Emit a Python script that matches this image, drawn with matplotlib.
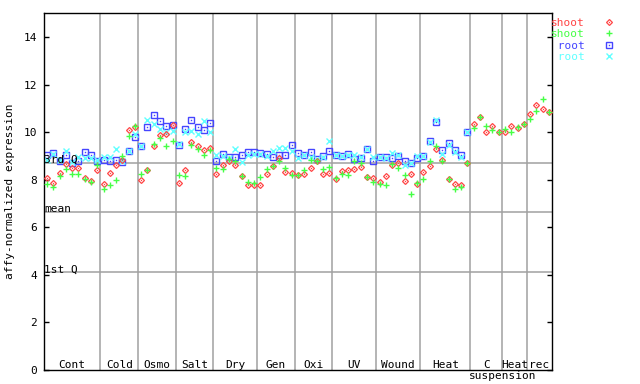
import numpy as np
import matplotlib.pyplot as plt
from matplotlib.legend_handler import HandlerTuple

plt.rcParams['font.family'] = 'DejaVu Sans Mono'
plt.rcParams['font.size'] = 8

groups = ["Cont", "Cold", "Osmo", "Salt", "Dry", "Gen", "Oxi", "UV",
          "Wound", "Heat", "C", "Heat", "rec"]
group_sizes = [9, 6, 6, 6, 7, 6, 6, 7, 7, 8, 5, 4, 4]

# shoot replicates (all samples)
shoot1 = [8.07, 7.88, 8.30, 8.68, 8.49, 8.49, 8.07, 7.96, 8.40,
          7.82, 8.30, 8.60, 8.82, 10.08, 10.22,
          7.97, 8.40, 9.43, 9.90, 9.92, 10.32,
          7.86, 8.43, 9.57, 9.41, 9.25, 9.32,
          8.26, 8.64, 8.80, 8.60, 8.14, 7.77, 7.76,
          7.77, 8.23, 8.58, 8.90, 8.33, 8.27,
          8.20, 8.25, 8.48, 8.77, 8.24, 8.27,
          8.03, 8.35, 8.40, 8.45, 8.54, 8.10, 8.06,
          7.91, 8.16, 8.64, 8.70, 7.93, 8.23, 7.84,
          8.31, 8.56, 9.31, 8.84, 8.05, 7.82, 7.77, 8.72,
          10.36, 10.62, 9.99, 10.26, 10.02,
          9.99, 10.25, 10.18, 10.36,
          10.78, 11.16, 10.98, 10.85]
shoot2 = [7.81, 7.70, 8.17, 8.45, 8.26, 8.26, 8.03, 7.89, 8.60,
          7.63, 7.78, 7.97, 9.01, 9.85, 10.27,
          8.25, 8.39, 9.52, 9.77, 9.43, 9.61,
          8.19, 8.14, 9.48, 9.31, 9.06, 9.23,
          8.48, 8.45, 8.89, 8.77, 8.16, 7.91, 7.88,
          8.10, 8.45, 8.57, 8.77, 8.50, 8.21,
          8.20, 8.40, 8.82, 8.80, 8.46, 8.53,
          8.07, 8.26, 8.22, 8.78, 8.72, 8.10, 7.89,
          7.84, 7.76, 8.65, 8.48, 8.20, 7.42, 7.85,
          8.05, 8.80, 9.42, 8.78, 8.04, 7.59, 7.68, 8.71,
          10.19, 10.63, 10.28, 10.11, 10.02,
          10.15, 9.99, 10.21, 10.36,
          10.55, 10.88, 11.41, 10.85]
# root replicates (no cell-suspension samples)
root1 = [9.02, 9.13, 8.80, 9.02, 8.72, 8.78, 9.15, 9.03, 8.80,
         8.84, 8.78, 8.84, 8.75, 9.21, 9.81,
         9.40, 10.23, 10.74, 10.45, 10.28, 10.32,
         9.48, 10.13, 10.50, 10.20, 10.08, 10.37,
         8.77, 9.07, 8.96, 8.94, 9.03, 9.15, 9.17,
         9.13, 9.07, 8.96, 9.06, 9.03, 9.45,
         9.12, 9.04, 9.18, 8.87, 9.01, 9.20,
         9.03, 8.99, 9.10, 8.86, 8.92, 9.31, 8.77,
         8.96, 8.95, 8.91, 9.00, 8.77, 8.72, 8.91,
         9.00, 9.64, 10.42, 9.27, 9.53, 9.26, 9.06, 10.01]
root2 = [8.82, 9.10, 8.85, 9.21, 8.75, 8.96, 8.91, 8.92, 8.82,
         8.97, 8.96, 9.29, 8.80, 9.20, 9.92,
         9.42, 10.52, 10.36, 10.14, 10.02, 10.06,
         9.50, 10.02, 10.03, 9.94, 10.45, 9.99,
         9.02, 9.00, 8.92, 9.29, 8.73, 9.05, 9.10,
         9.10, 9.00, 9.20, 9.34, 9.34, 9.22,
         8.92, 9.02, 8.96, 8.88, 8.95, 9.62,
         9.03, 9.00, 9.05, 9.03, 8.95, 9.30, 8.96,
         8.96, 8.92, 9.11, 9.05, 8.64, 8.70, 9.00,
         8.98, 9.60, 10.50, 9.10, 9.45, 9.17, 8.96, 10.00]

q1, mean, q3 = 4.11, 6.64, 8.70

red, green, blue, cyan = '#ff4545', '#45ff45', '#4545ff', '#60ffff'
grey = '#a0a0a0'

n = sum(group_sizes)
x = np.arange(1, n + 1)
xr = x[:len(root1)]

fig = plt.figure(figsize=(6.4, 3.84), dpi=100)
ax = fig.add_axes([0.06875, 0.0365, 0.79375, 0.9289])

# group separators and reference lines
edges = np.cumsum(group_sizes) + 0.5
for e in edges[:-1]:
    ax.axvline(e, color=grey, lw=1.1, zorder=1)
for v, lab in [(q3, "3rd Q"), (mean, "mean"), (q1, "1st Q")]:
    ax.axhline(v, color=grey, lw=1.1, zorder=1)
    ax.text(0.55, v, lab, ha='left', va='baseline', zorder=5)

r1, = ax.plot(x, shoot1, ls='none', marker='D', ms=3.0, mfc='none',
              mec=red, mew=0.9, zorder=3, color=red)
r1d, = ax.plot(x, shoot1, ls='none', marker='s', ms=0.9, mfc=red,
               mec=red, mew=0, zorder=3)
g1, = ax.plot(x, shoot2, ls='none', marker='+', ms=5.0, mec=green,
              mew=1.0, zorder=3, color=green)
b1, = ax.plot(xr, root1, ls='none', marker='s', ms=4.4, mfc='none',
              mec=blue, mew=1.0, zorder=2, color=blue)
b1d, = ax.plot(xr, root1, ls='none', marker='s', ms=1.0, mfc=blue,
               mec=blue, mew=0, zorder=2)
c1, = ax.plot(xr, root2, ls='none', marker='x', ms=3.8, mec=cyan,
              mew=1.0, zorder=2, color=cyan)

# group labels
starts = edges - np.array(group_sizes)
for lab, s, e in zip(groups, starts, edges):
    ax.text((s + e) / 2, 0.1, lab, ha='center', va='baseline')
ax.text(starts[10] - 0.2, -0.37, "suspension", ha='left', va='baseline',
        clip_on=False)

ax.set_xlim(0.5, n + 0.5)
ax.set_ylim(0, 15)
ax.set_xticks([])
ax.set_yticks(range(0, 15, 2))
ax.tick_params(axis='y', direction='in', length=3.6, width=1,
               right=True, pad=5)
for sp in ax.spines.values():
    sp.set_linewidth(1.0)

fig.text(10 / 640, 1 - 191.6 / 384, "affy-normalized expression",
         rotation=90, ha='center', va='center')

leg = fig.legend([(r1, r1d), g1, (b1, b1d), c1],
                 ["shoot", "shoot", " root", " root"],
                 handler_map={tuple: HandlerTuple(ndivide=1, pad=0)},
                 loc='upper left', bbox_to_anchor=(551 / 640, 1 - 18 / 384),
                 frameon=False, markerfirst=False, numpoints=1,
                 borderpad=0, borderaxespad=0, handlelength=3.3,
                 handletextpad=0.5, labelspacing=0.12, labelcolor='linecolor')

fig.savefig("out.png", dpi=100)
